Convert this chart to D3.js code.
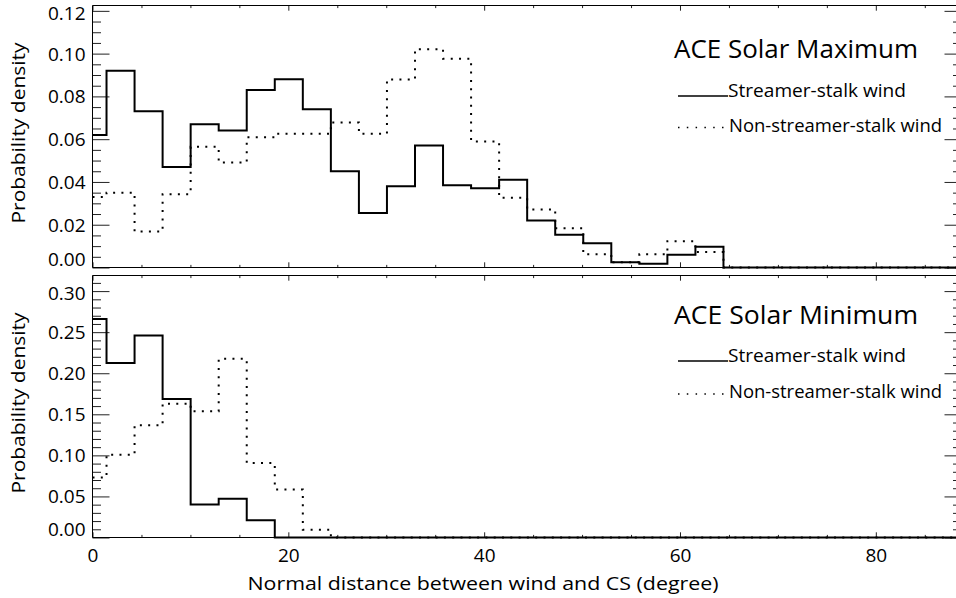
<!DOCTYPE html>
<html>
<head>
<meta charset="utf-8">
<script src="https://cdn.jsdelivr.net/npm/d3@7"></script>
<style>
  html, body { margin: 0; padding: 0; background: #fff; }
  svg { display: block; }
  text { font-family: "Open Sans", Lato, sans-serif; fill: #000; }
</style>
</head>
<body>
<svg id="chart" width="956" height="598"></svg>
<script>
// ---- data ----
const binCenters = [0, 2.864, 5.728, 8.592, 11.456, 14.32, 17.184, 20.048, 22.912, 25.776,
  28.64, 31.504, 34.368, 37.232, 40.096, 42.96, 45.824, 48.688, 51.552, 54.416,
  57.28, 60.144, 63.008, 65.872, 68.736, 71.6, 74.464, 77.328, 80.192, 83.056, 85.92, 88.784];

const maxStreamer = [0.062, 0.092, 0.073, 0.047, 0.067, 0.064, 0.083, 0.088, 0.074, 0.045,
  0.0255, 0.038, 0.057, 0.0385, 0.037, 0.041, 0.022, 0.0153, 0.0113, 0.0025,
  0.0017, 0.006, 0.0097, 0, 0, 0, 0, 0, 0, 0, 0, 0];
const maxNonStreamer = [0.033, 0.035, 0.0168, 0.0343, 0.0564, 0.0491, 0.0609, 0.0625, 0.0625, 0.0678,
  0.0625, 0.0879, 0.1021, 0.0976, 0.0589, 0.0326, 0.0271, 0.0184, 0.0062, 0.0025,
  0.0062, 0.0123, 0.0072, 0, 0, 0, 0, 0, 0, 0, 0, 0];
const minStreamer = [0.266, 0.2126, 0.246, 0.1687, 0.0402, 0.0472, 0.0211, 0, 0, 0,
  0, 0, 0, 0, 0, 0, 0, 0, 0, 0, 0, 0, 0, 0, 0, 0, 0, 0, 0, 0, 0, 0];
const minNonStreamer = [0.073, 0.1008, 0.1366, 0.163, 0.1537, 0.2175, 0.0906, 0.0585, 0.0095, 0,
  0, 0, 0, 0, 0, 0, 0, 0, 0, 0, 0, 0, 0, 0, 0, 0, 0, 0, 0, 0, 0, 0];

const xTickValues = [0, 20, 40, 60, 80];
const xMinorValues = [5, 10, 15, 25, 30, 35, 45, 50, 55, 65, 70, 75, 85];
const maxYTicks = [0.00, 0.02, 0.04, 0.06, 0.08, 0.10, 0.12];
const minYTicks = [0.00, 0.05, 0.10, 0.15, 0.20, 0.25, 0.30];

const panelTitles = ["ACE Solar Maximum", "ACE Solar Minimum"];
const legendLabels = ["Streamer-stalk wind", "Non-streamer-stalk wind"];
const xAxisTitle = "Normal distance between wind and CS (degree)";
const yAxisTitle = "Probability density";

// ---- layout ----
const svg = d3.select("#chart");
const xL = 92.5, xR = 961.5;
const x = d3.scaleLinear().domain([0, 88.75]).range([xL, xR]);

const panels = [
  { top: 5.5, bottom: 267.5, ymax: 0.1225, yTicks: maxYTicks, minorStep: 0.005,
    s1: maxStreamer, s2: maxNonStreamer, title: panelTitles[0],
    titleY: 58, leg1Y: 96.5, leg2Y: 131.5 },
  { top: 275.5, bottom: 537.5, ymax: 0.319, yTicks: minYTicks, minorStep: 0.01,
    s1: minStreamer, s2: minNonStreamer, title: panelTitles[1],
    titleY: 324, leg1Y: 361.5, leg2Y: 398 }
];

panels.forEach((p, pi) => {
  const y = d3.scaleLinear().domain([0, p.ymax]).range([p.bottom, p.top]);
  const g = svg.append("g");
  const clipId = "clip" + pi;
  svg.append("clipPath").attr("id", clipId)
    .append("rect").attr("x", xL).attr("y", p.top - 2)
    .attr("width", xR - xL).attr("height", p.bottom - p.top + 4);

  const yMinor = d3.range(0, p.ymax + 1e-9, p.minorStep)
    .filter(v => !p.yTicks.some(t => Math.abs(t - v) < 1e-9));

  const styleAxis = sel => {
    sel.select(".domain").remove();
    sel.selectAll(".tick line").attr("stroke", "#222").attr("stroke-width", 1);
    sel.selectAll(".tick text").style("font-size", "19px").style("font-family", "'Open Sans', Lato, sans-serif");
  };

  const left = g.append("g").attr("transform", `translate(${xL},0)`)
    .call(d3.axisLeft(y).tickValues(p.yTicks).tickSize(-17).tickPadding(7).tickFormat(d3.format(".2f")));
  styleAxis(left);
  const topTick = p.yTicks[p.yTicks.length - 1];
  left.selectAll(".tick text").attr("dy", d => d === 0 ? "-0.1em" : (d === topTick ? "0.45em" : "0.34em"));
  g.append("g").attr("transform", `translate(${xL},0)`)
    .call(d3.axisLeft(y).tickValues(yMinor).tickSize(-8.5).tickFormat(""))
    .call(styleAxis);
  g.append("g").attr("transform", `translate(${xR},0)`)
    .call(d3.axisRight(y).tickValues(p.yTicks).tickSize(-17).tickFormat(""))
    .call(styleAxis);
  g.append("g").attr("transform", `translate(${xR},0)`)
    .call(d3.axisRight(y).tickValues(yMinor).tickSize(-8.5).tickFormat(""))
    .call(styleAxis);
  g.append("g").attr("transform", `translate(0,${p.top})`)
    .call(d3.axisTop(x).tickValues(xTickValues).tickSize(-5.2).tickFormat(""))
    .call(styleAxis);
  g.append("g").attr("transform", `translate(0,${p.top})`)
    .call(d3.axisTop(x).tickValues(xMinorValues).tickSize(-2.6).tickFormat(""))
    .call(styleAxis);
  const bot = g.append("g").attr("transform", `translate(0,${p.bottom})`)
    .call(d3.axisBottom(x).tickValues(xTickValues).tickSize(-5.2).tickPadding(11)
      .tickFormat(pi === 1 ? d3.format("d") : ""));
  styleAxis(bot);
  g.append("g").attr("transform", `translate(0,${p.bottom})`)
    .call(d3.axisBottom(x).tickValues(xMinorValues).tickSize(-2.6).tickFormat(""))
    .call(styleAxis);

  g.append("path")
    .attr("d", `M${xL},${p.top}H${xR}M${xL},${p.top}V${p.bottom}H${xR}`)
    .attr("fill", "none").attr("stroke", "#000").attr("stroke-width", 1);

  const line = d3.line().x((d, i) => x(binCenters[i])).y(d => y(d)).curve(d3.curveStep);
  const hist = g.append("g").attr("clip-path", `url(#${clipId})`);
  hist.append("path").datum(p.s2).attr("d", line)
    .attr("fill", "none").attr("stroke", "#000").attr("stroke-width", 2)
    .attr("stroke-dasharray", "2,6.3");
  hist.append("path").datum(p.s1).attr("d", line)
    .attr("fill", "none").attr("stroke", "#000").attr("stroke-width", 2);

  g.append("text").attr("x", 674).attr("y", p.titleY)
    .attr("textLength", 244).attr("lengthAdjust", "spacingAndGlyphs")
    .style("font-size", "25px").text(p.title);
  g.append("line").attr("x1", 678).attr("x2", 728).attr("y1", p.leg1Y - 0.5).attr("y2", p.leg1Y - 0.5)
    .attr("stroke", "#000").attr("stroke-width", 1.5);
  g.append("text").attr("x", 728).attr("y", p.leg1Y + 0.5)
    .attr("textLength", 178).attr("lengthAdjust", "spacingAndGlyphs")
    .style("font-size", "18px").text(legendLabels[0]);
  g.append("line").attr("x1", 678).attr("x2", 724).attr("y1", p.leg2Y - 4).attr("y2", p.leg2Y - 4)
    .attr("stroke", "#000").attr("stroke-width", 1.5).attr("stroke-dasharray", "1.5,7.3");
  g.append("text").attr("x", 729).attr("y", p.leg2Y)
    .attr("textLength", 213).attr("lengthAdjust", "spacingAndGlyphs")
    .style("font-size", "18px").text(legendLabels[1]);

  g.append("text")
    .attr("transform", `translate(25,${(p.top + p.bottom) / 2 - 3.5}) rotate(-90)`)
    .attr("text-anchor", "middle").attr("textLength", 181).attr("lengthAdjust", "spacingAndGlyphs")
    .style("font-size", "18.5px").text(yAxisTitle);
});

svg.append("text").attr("x", 483).attr("y", 590).attr("text-anchor", "middle")
  .attr("textLength", 471).attr("lengthAdjust", "spacingAndGlyphs")
  .style("font-size", "18px").text(xAxisTitle);
</script>
</body>
</html>
